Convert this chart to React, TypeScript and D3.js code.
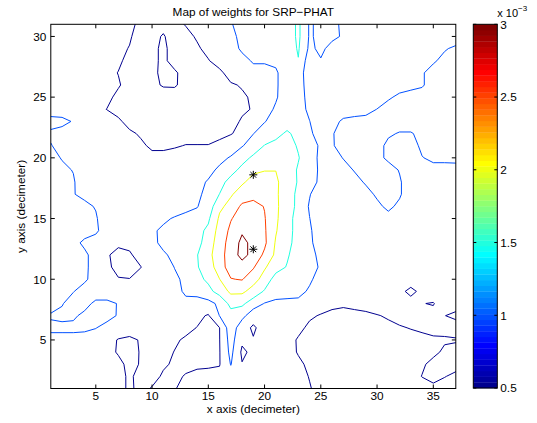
import React, { useRef, useEffect } from 'react';
import * as d3 from 'd3';

// weight map on the 1 dm grid
// columns: x = 1..37, rows: y = 31 (top) .. 1 (bottom), values in units of 1e-4
const weights = [
  [7,7,7,7,7,7,7,6,4,3,4,4,5.2,7,7,8,9.7,11.5,12,12,12,12,16,9.5,11,11,9.3,7,7,7,7,7,7,7,7,7,7],
  [7,7,7,7,7,7,7,5.5,3,4,5.3,3.5,4,5.4,7,7,9,11,12,12,12,12,16,9.5,11,11,9.5,7,7,7,7,7,7,7,7,7,7],
  [7,7,7,7,7,7,6,4.8,3,4,5.8,3.5,3,4.5,6,7,8,10.8,12,12,12,12,15.5,9,11,8.5,7,7,7,7,7,7,7,7,7,9.5,11],
  [7,7,7,7,7,7,5.6,4,3,4,5.8,3.5,3,3.5,4.8,6.5,7.5,8.5,10.5,10.5,10.7,12,14.8,7,9.7,7,7,7,7,7,7,7,7,7,9.3,11.5,12],
  [7,7,7,7,7,6,4.9,3.5,3,4,6,5.6,3.5,3,3.5,4.2,6.5,8,8.5,8.5,9.5,12,12.5,7,7,7,7,7,7,7,7,7,7,9.5,12,12,12],
  [7,7,7,7,7,7,5.4,3.5,3,4,5.4,5.5,3.5,3,3,3,4.6,5.3,7,8,9.5,12,12,8,7,7,7,7,7,7,7,8,8.5,9.5,12,12,12],
  [7,7,7,7,7,6,4,3.5,3,3,3,3,3,3,3,3,3.5,4.5,5.5,7,9.6,12,12,8.5,7,7,7,7,7,7,9.3,11,12,12,12,12,12],
  [7,7,7,7,6.2,4.9,3,3,3,3,3,3,3,3,3,3,3,4.3,5.3,8.5,10.5,12,12,9,7,7,7,7,8,10.1,12,12,12,12,12,12,12],
  [12,11.5,9.6,7,7,7,6,3,3,3,3,3,3,3,3,3,3.5,5.5,7,9.8,11.5,12,12,10.1,7,8,11,12,12,12,12,12,12,12,12,12,12],
  [9,8,7,7,7,7,7,6,4.3,3,3,3,3,3,3,4,4.8,6,9.9,12,13,16,13,11,7.5,9.6,12,12,12,12,10.6,9.7,9.7,11,12,12,12],
  [10.3,8,7,7,7,7,7,7,6,4,4,4.5,5.2,5.2,5.2,6,7,9.7,12,15.2,17,17,14.5,12,9.3,9.5,12,12,12,11.5,9,7.5,8,11,12,12,12],
  [11.5,9.7,7,7,7,7,7,7,7,6.5,6.5,7,7,7,7,8.5,10.5,13,16,17,17.5,17.5,15.3,12,9,8,10.2,12,12,11.5,9,7,7.5,9.8,11,11,11],
  [12,11,9.8,7,7,7,7,7,7,7,7,7,7,7,8.5,11,13,16.5,19.2,19.8,19.9,17.5,14.5,12,9.2,7.5,8.3,10.3,12,12,12,9.7,7.5,8,8.5,8.5,8.7],
  [12,12,10.5,7,7,7,7,7,7,7,7,7,7,8.5,10.5,13,17,19.4,21.5,22,21,17,14.7,11.5,9.2,7,7,8.5,10.5,12,12,10.6,7,7,7,7,7],
  [12,12,10.2,9,7,7,7,7,7,7,7,7,7,9.3,11,15.1,19.5,22,23.5,23,21,16.5,14.3,10.3,7,7,7,7,8.5,10.7,12,10.6,7,7,7,7,7],
  [12,12,12,11,9.7,7,7,7,7,7,7,7,8.5,9.8,12,19,21.5,26,26.5,24.8,21,17,14,9.5,7,7,7,7,7,9,11,9,7,7,7,7,7],
  [12,12,12,12,10.5,7,7,7,7,7,9,10.5,11.5,11.5,14.2,20.8,24.7,27,27.5,25.3,21,16.2,13.8,10.1,7,7,7,7,7,7,8.5,7,7,7,7,7,7],
  [12,12,12,12,11,7,7,7,7,9.2,11,12,12,13.5,16,22,26,29.5,28.5,25.6,20.4,16.5,13.5,10.5,8,7,7,7,7,7,7,7,7,7,7,7,7],
  [12,12,11.5,9,7.5,7,6,6,7,9,11,12,12,13,18,22,27.5,31,29,26,19.5,16.5,13,10.6,8.5,7,7,7,7,7,7,7,7,7,7,7,7],
  [12,12,12,11,8,5.5,3.5,4.5,6.5,7.5,9.4,11,12,14.8,18.5,23,27.5,31.5,28.5,24,19,15.6,12.5,11,9.2,7,7,7,7,7,7,7,7,7,7,7,7],
  [12,12,12,11,8,6,3.5,3.5,4.9,7,8,10.1,12,14.7,17,23,27,28,25.5,20.6,17,14.7,12,11.5,9.5,7,7,7,7,7,7,7,7,7,7,7,7],
  [12,12,12,10.8,8,6.5,5.3,5.1,6.5,7,7,9.3,10.8,13.5,16,19.9,24.8,25.3,22,18,13,12,12,10.8,8,7,7,7,7,7,7,7,7,7,7,7,7],
  [12,12,10.2,8,7.5,7.5,7,7,7,7,7,8,11,12,13.5,17,21,21,18,14.5,12,11.5,11.5,9.3,7,7,7,7,7,7,7,6,4,6,7,7,7],
  [12,10.3,8,8.5,11,11,9.8,7,7,7,7,7,8.5,7.5,8.5,11,16.5,16,12.5,9.8,9,9,8.7,7,7,6,5.6,6,6.5,7,7,7,6.5,5.1,4.8,7,6],
  [9.5,9,9.3,11,12,12,9.5,7,7,7,7,7,7,6,4.6,10.1,13,11.5,7,7,7,7,7,5.6,4.7,4,3.8,4,4.2,4.8,5.4,6.5,6.5,6,6,5.05,4.5],
  [11,11,11,11,10.2,8,7,7,7,7,7,7,6,4.9,4,4.95,13,7,4.3,7,7,7,6,4.2,3.5,3.5,3.5,3.5,3.5,3.5,4.2,4.6,5.2,6,6,6,6],
  [8.5,8.5,8.5,8,7,6.2,4.8,4.2,5.3,7,6.5,5.5,4.5,3.5,3.5,4.9,12,5.8,5.3,6.5,7,6.5,4.6,3.5,3.5,3.5,3.5,3.5,3.5,3.5,3.5,3.5,3.5,3.5,4.5,4.6,4.8],
  [7.5,7.5,7.5,7,6.5,6,4.7,4,5.2,6.5,6,4.9,3.5,3.5,3.5,4.8,11.3,4.2,6,6.5,7,6,4.8,3.5,3.5,3.5,3.5,3.5,3.5,3.5,3.5,3.5,3.5,3.5,4.2,5.6,5.7],
  [7.5,7.5,7.5,7.5,7.5,7,5.8,4.2,5.2,6,5.4,4.6,4,4.3,4.5,4.8,10.2,5.2,6.5,7,7,7,5.5,4.5,3.5,3.5,3.5,3.5,3.5,3.5,3.5,3.5,3.5,4.5,6,6.5,5.8],
  [7.5,7.5,7.5,7.5,7.5,7.5,6,4.5,6,6,4.6,4.2,5.3,6,6,6,8,6.5,7,7,7,7,6.5,4.8,3.5,3.5,3.5,3.5,3.5,3.5,3.5,3.5,3.5,5.1,6,5.1,4.5],
  [7.5,7.5,7.5,7.5,7.5,7.5,6,4.5,5.8,4.8,4,4.8,6,7,7,7,7.5,7,7,7,7,7,7,5.3,3.5,3.5,3.5,3.5,3.5,3.5,3.5,3.5,3.5,3.5,4.2,4,4.6],
];

const contourLevels = [0.5, 1, 1.5, 2, 2.5, 3]; // x 1e-3
const xTicks = [5, 10, 15, 20, 25, 30, 35];
const yTicks = [5, 10, 15, 20, 25, 30];
const colorbarTicks = [0.5, 1, 1.5, 2, 2.5, 3];
const sourceX = [19, 19];
const sourceY = [18.6, 12.47];

// MATLAB jet(64)
const ramp = (i: number) => (i < 1 || i > 47 ? 0 : i <= 16 ? i / 16 : i <= 31 ? 1 : (48 - i) / 16);
const jet = (k: number) => d3.rgb(255 * ramp(k - 24), 255 * ramp(k - 8), 255 * ramp(k + 8)).formatHex();
const levelColor = (v: number) => jet(Math.min(64, Math.floor(((v - 0.5) / 2.5) * 64) + 1));

const font = 'Liberation Sans, Arial, Helvetica, sans-serif';

const App = () => {
  const ref = useRef<SVGSVGElement>(null);

  useEffect(() => {
    const svg = d3.select(ref.current);
    svg.selectAll('*').remove();

    const nx = weights[0].length;
    const ny = weights.length;
    const left = 50.8, right = 455.8, top = 24.3, bottom = 388.5;

    const x = d3.scaleLinear().domain([1, 37]).range([left, right]);
    const y = d3.scaleLinear().domain([1, 31]).range([bottom, top]);

    svg.append('rect').attr('width', 537).attr('height', 423).attr('fill', '#fff');

    svg.append('clipPath').attr('id', 'plot-clip')
      .append('rect')
      .attr('x', left).attr('y', top)
      .attr('width', right - left).attr('height', bottom - top);

    // contour lines
    const contours = d3.contours()
      .size([nx, ny])
      .thresholds(contourLevels.map(l => l * 10))(weights.flat());

    const ringPath = (ring: number[][]) =>
      'M' + ring.map(([cx, cy]) => `${x(cx + 0.5).toFixed(2)},${y(ny + 0.5 - cy).toFixed(2)}`).join('L') + 'Z';

    svg.append('g')
      .attr('clip-path', 'url(#plot-clip)')
      .selectAll('path')
      .data(contours)
      .enter()
      .append('path')
      .attr('d', d => d.coordinates.map(poly => poly.map(ringPath).join('')).join(''))
      .attr('fill', 'none')
      .attr('stroke', d => levelColor(d.value / 10))
      .attr('stroke-width', 1)
      .attr('stroke-linejoin', 'round');

    // source markers
    const star = svg.append('g');
    sourceX.forEach((sx, i) => {
      const px = x(sx), py = y(sourceY[i]);
      const r = 4, d = r * 0.72;
      star.append('path')
        .attr('d', `M${px - r},${py}H${px + r}M${px},${py - r}V${py + r}M${px - d},${py - d}L${px + d},${py + d}M${px - d},${py + d}L${px + d},${py - d}`)
        .attr('stroke', '#000')
        .attr('stroke-width', 1)
        .attr('fill', 'none');
    });

    // axes box and ticks
    const axis = svg.append('g').attr('stroke', '#000').attr('stroke-width', 1);
    axis.append('rect')
      .attr('x', left).attr('y', top)
      .attr('width', right - left).attr('height', bottom - top)
      .attr('fill', 'none');
    xTicks.forEach(t => {
      axis.append('line').attr('x1', x(t)).attr('x2', x(t)).attr('y1', bottom).attr('y2', bottom - 4);
      axis.append('line').attr('x1', x(t)).attr('x2', x(t)).attr('y1', top).attr('y2', top + 4);
    });
    yTicks.forEach(t => {
      axis.append('line').attr('x1', left).attr('x2', left + 4).attr('y1', y(t)).attr('y2', y(t));
      axis.append('line').attr('x1', right).attr('x2', right - 4).attr('y1', y(t)).attr('y2', y(t));
    });

    const labels = svg.append('g').attr('font-family', font).attr('font-size', 11.8).attr('fill', '#000');
    xTicks.forEach(t => {
      labels.append('text').attr('x', x(t)).attr('y', bottom + 11.3).attr('text-anchor', 'middle').text(t);
    });
    yTicks.forEach(t => {
      labels.append('text').attr('x', left - 4.5).attr('y', y(t) + 4.3).attr('text-anchor', 'end').text(t);
    });

    labels.append('text')
      .attr('x', (left + right) / 2).attr('y', 15.5)
      .attr('text-anchor', 'middle')
      .text('Map of weights for SRP\u2212PHAT');
    labels.append('text')
      .attr('x', (left + right) / 2).attr('y', 413.3)
      .attr('text-anchor', 'middle')
      .text('x axis (decimeter)');
    labels.append('text')
      .attr('transform', `translate(24.5,${(top + bottom) / 2}) rotate(-90)`)
      .attr('text-anchor', 'middle')
      .text('y axis (decimeter)');

    // colorbar
    const cbLeft = 473.3, cbRight = 497.3;
    const cb = d3.scaleLinear().domain([0.5, 3]).range([388, 24.3]);
    const step = 2.5 / 64;
    const bar = svg.append('g');
    d3.range(1, 65).forEach(k => {
      const v0 = 0.5 + (k - 1) * step;
      bar.append('rect')
        .attr('x', cbLeft).attr('y', cb(v0 + step))
        .attr('width', cbRight - cbLeft).attr('height', cb(v0) - cb(v0 + step) + 0.3)
        .attr('fill', jet(k));
    });
    bar.append('rect')
      .attr('x', cbLeft).attr('y', cb(3))
      .attr('width', cbRight - cbLeft).attr('height', cb(0.5) - cb(3))
      .attr('fill', 'none').attr('stroke', '#000');
    colorbarTicks.forEach(t => {
      bar.append('line').attr('x1', cbLeft).attr('x2', cbLeft + 3).attr('y1', cb(t)).attr('y2', cb(t)).attr('stroke', '#000');
      bar.append('line').attr('x1', cbRight).attr('x2', cbRight - 3).attr('y1', cb(t)).attr('y2', cb(t)).attr('stroke', '#000');
      labels.append('text').attr('x', cbRight + 3).attr('y', cb(t) + 4.3).text(t);
    });
    const exp = labels.append('text').attr('x', cbRight).attr('y', 16.5).attr('font-size', 11);
    exp.append('tspan').text('x 10');
    exp.append('tspan').attr('font-size', 8).attr('dy', -5.5).text('\u22123');
  }, []);

  return (
    <svg
      ref={ref}
      width={537}
      height={423}
      style={{ position: 'absolute', left: 0, top: 0, display: 'block' }}
    />
  );
};

export default App;
